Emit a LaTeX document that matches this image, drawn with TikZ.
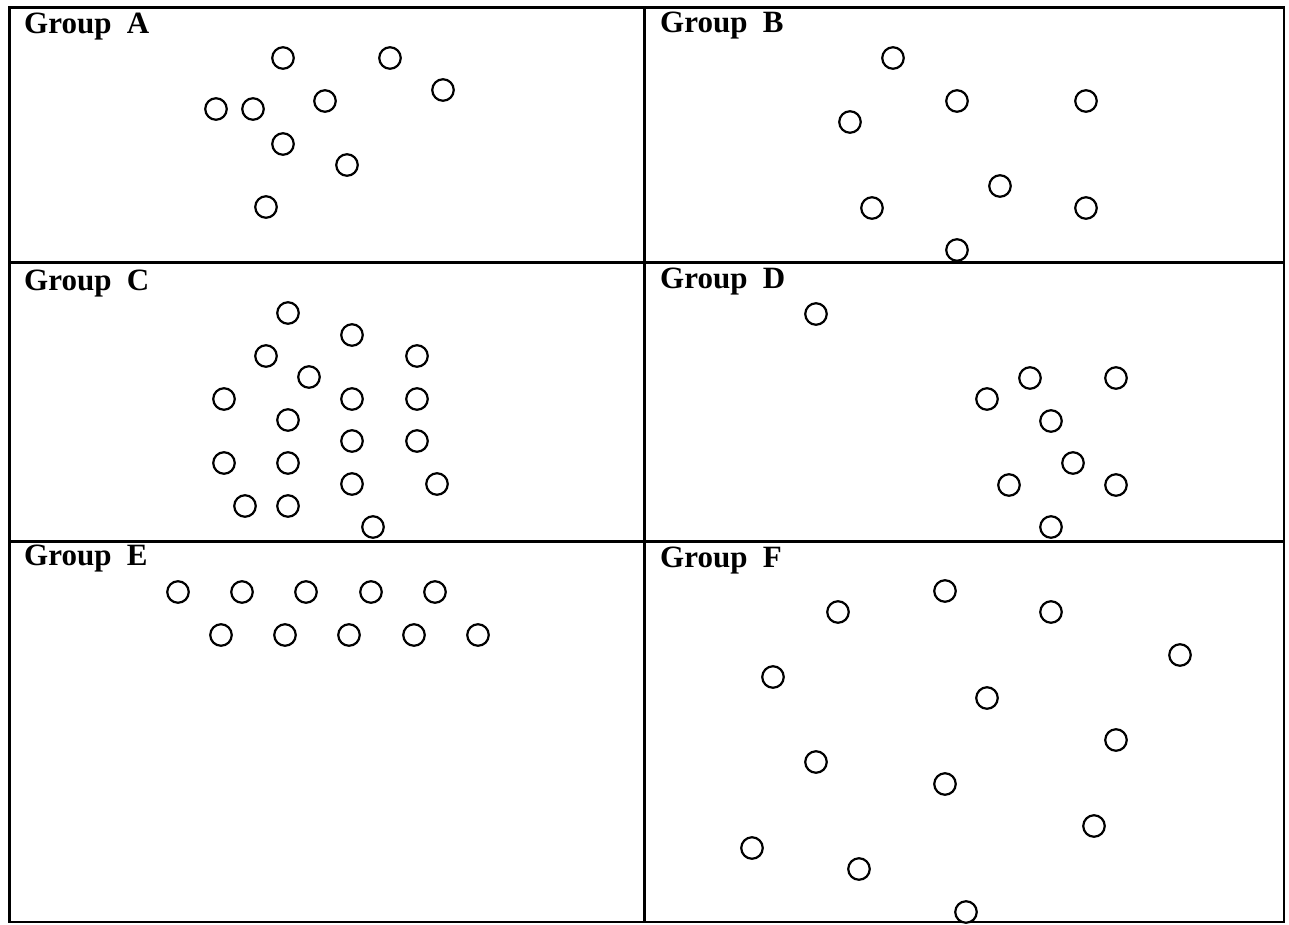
\documentclass[tikz,border=0pt]{standalone}
\usepackage{fontspec}
\setmainfont{Liberation Serif}
\begin{document}
\begin{tikzpicture}[x=1pt,y=-1pt,
  frame/.style={line width=2.7pt,draw=black},
  dot/.style={circle,draw=black,line width=2.2pt,minimum size=21.5pt,inner sep=0pt,fill=white},
  lab/.style={anchor=base west,inner sep=0pt,font=\fontsize{31}{31}\selectfont\bfseries}]
\useasboundingbox (0,0) rectangle (1289,924);
% frame and grid
\draw[frame] (9.5,7.5) rectangle (1284,922);
\draw[frame] (644.5,7.5) -- (644.5,922);
\draw[frame] (9.5,262.5) -- (1284,262.5);
\draw[frame] (9.5,541.5) -- (1284,541.5);
% labels
\node[lab] (la) at (24,33) {Group\ \ A};
\node[lab] (lb) at (660,32) {Group\ \ B};
\node[lab] (lc) at (24,290) {Group\ \ C};
\node[lab] (ld) at (660,288) {Group\ \ D};
\node[lab] (le) at (24,565) {Group\ \ E};
\node[lab] (lf) at (660,567) {Group\ \ F};
% Group A
\foreach \x/\y [count=\i] in {283/58,390/58,443/90,216/109,253/109,325/101,283/144,347/165,266/207}
  \node[dot] (a\i) at (\x,\y) {};
% Group B
\foreach \x/\y [count=\i] in {893/58,957/101,1086/101,850/122,1000/186,872/208,1086/208,957/250}
  \node[dot] (b\i) at (\x,\y) {};
% Group C
\foreach \x/\y [count=\i] in {288/313,352/335,266/356,417/356,309/377,224/399,352/399,417/399,288/420,352/441,417/441,224/463,288/463,352/484,437/484,245/506,288/506,373/527}
  \node[dot] (c\i) at (\x,\y) {};
% Group D
\foreach \x/\y [count=\i] in {816/314,1030/378,1116/378,987/399,1051/421,1073/463,1009/485,1116/485,1051/527}
  \node[dot] (d\i) at (\x,\y) {};
% Group E
\foreach \x/\y [count=\i] in {178/592,242/592,306/592,371/592,435/592,221/635,285/635,349/635,414/635,478/635}
  \node[dot] (e\i) at (\x,\y) {};
% Group F
\foreach \x/\y [count=\i] in {945/591,838/612,1051/612,1180/655,773/677,987/698,1116/740,816/762,945/784,1094/826,752/848,859/869,966/912}
  \node[dot] (f\i) at (\x,\y) {};
\end{tikzpicture}
\end{document}
